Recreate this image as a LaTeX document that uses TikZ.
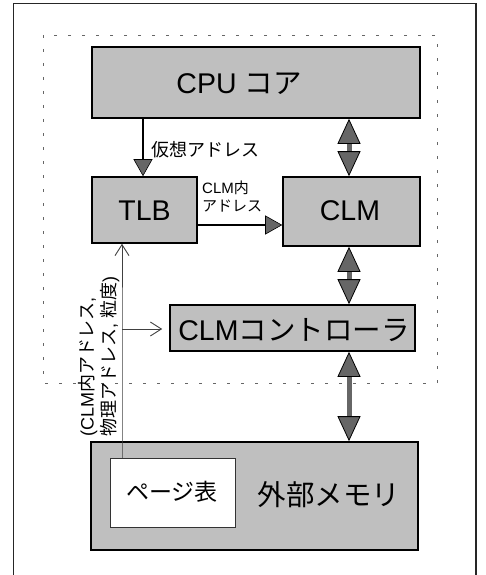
\documentclass[tikz,border=0pt]{standalone}
\usepackage{fontspec}
\setmainfont{Liberation Sans}
\newfontfamily\jp{Noto Sans CJK JP}
\usetikzlibrary{arrows.meta}
\begin{document}
\begin{tikzpicture}[x=1pt,y=-1pt,
  box/.style={draw=black, line width=1.6pt, fill=black!25, inner sep=0pt},
  ptbox/.style={draw=black!80, line width=0.6pt, fill=white, inner sep=0pt},
  bigtext/.style={inner sep=0pt, font=\fontsize{28.5}{30}\selectfont},
  smalltext/.style={inner sep=0pt, font=\fontsize{15}{18}\selectfont, align=left},
  va/.style={line width=1.3pt, -{Triangle[width=19pt,length=17pt,line width=0.6pt,black,fill=black!60]}},
  dbl/.style={line width=5pt, draw=black!60,
     {Triangle[width=23pt,length=25pt,line width=0.8pt,black,fill=black!60]}-{Triangle[width=23pt,length=25pt,line width=0.8pt,black,fill=black!60]}},
  thinarrow/.style={line width=0.6pt, draw=black!75, -{Straight Barb[width=14pt,length=11pt,line width=0.9pt]}}
]
\useasboundingbox (0,0) rectangle (485,575);
% outer frame
\draw[line width=1.5pt, black!85] (13.5,590) -- (13.5,3.5) -- (476,3.5) -- (476,590);
% dashed region
\draw[black!60, line width=0.7pt, dash pattern=on 3pt off 11pt] (43,35) rectangle (437,383);
% boxes
\node[box, minimum width=328pt, minimum height=71pt] (cpu) at (256,82.5) {};
\node[box, minimum width=105pt, minimum height=66pt] (tlb) at (144.5,210) {};
\node[box, minimum width=137pt, minimum height=69pt] (clm) at (351.5,211.5) {};
\node[box, minimum width=245pt, minimum height=46pt] (ctrl) at (292.5,328) {};
\node[box, minimum width=327pt, minimum height=108pt] (ext) at (254.5,496) {};
\node[ptbox, minimum width=125pt, minimum height=69pt] (pt) at (172.5,492.5) {};
% texts
\node[bigtext] (tcpu) at (239,84) {CPU {\jp コア}};
\node[bigtext] (ttlb) at (144.5,211) {TLB};
\node[bigtext] (tclm) at (350,211) {CLM};
\node[bigtext] (tctrl) at (294,330) {CLM{\jp コントローラ}};
\node[bigtext] (text) at (329,495) {\jp 外部メモリ};
\node[inner sep=0pt, font=\fontsize{23}{26}\selectfont] (tpt) at (172,492) {\jp ページ表};
% arrows
\coordinate (vx) at (143,0);
\draw[va] (cpu.south -| vx) -- (tlb.north -| vx);
\node[inner sep=0pt, anchor=west, font=\fontsize{18}{20}\selectfont] (lva) at (151,150) {\jp 仮想アドレス};
\coordinate (hy) at (0,225);
\draw[va] (tlb.east |- hy) -- (clm.west |- hy);
\node[smalltext, anchor=north west] (lclm) at (202,181) {CLM{\jp 内}\\{\jp アドレス}};
\coordinate (dx) at (349,0);
\draw[dbl] (cpu.south -| dx) -- (clm.north -| dx);
\draw[dbl] (clm.south -| dx) -- (ctrl.north -| dx);
\draw[dbl] (ctrl.south -| dx) -- (ext.north -| dx);
% page table lines
\coordinate (br) at (122,329);
\draw[thinarrow] (pt.north -| br) -- (br) -- (tlb.south -| br);
\draw[thinarrow, shorten >=7pt] (br) -- (ctrl.west |- br);
\node[rotate=90, anchor=west, align=left, inner sep=0pt, font=\fontsize{18}{22}\selectfont] (lrot) at (99,437)
  {({}CLM{\jp 内アドレス},\\{\jp 物理アドレス}, {\jp 粒度})};
\end{tikzpicture}
\end{document}
